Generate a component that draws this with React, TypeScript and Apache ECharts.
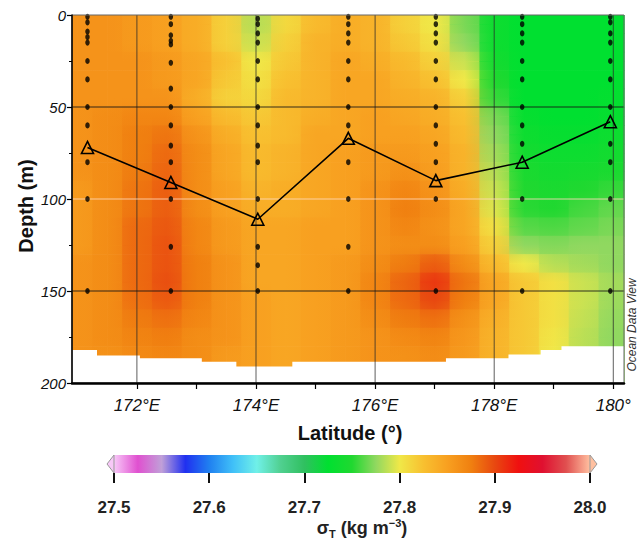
import React, { useEffect, useRef } from "react";
import * as echarts from "echarts";

// ---------- data ----------
const lonColumns = [171.0, 171.5, 172.0, 172.5, 173.0, 173.5, 174.0, 174.5, 175.0, 175.5, 176.0, 176.5, 177.0, 177.5, 178.0, 178.5, 179.0, 179.5, 180.0];
const depthRows = [5, 15, 25, 35, 45, 55, 65, 75, 85, 95, 105, 115, 125, 135, 145, 155, 165, 175, 185];

const sigma5 = [27.86, 27.86, 27.855, 27.85, 27.84, 27.815, 27.785, 27.81, 27.83, 27.84, 27.835, 27.815, 27.8, 27.77, 27.735, 27.725, 27.725, 27.725, 27.725];
const sigma15 = [27.86, 27.86, 27.855, 27.85, 27.84, 27.815, 27.79, 27.815, 27.835, 27.84, 27.835, 27.82, 27.805, 27.775, 27.735, 27.725, 27.725, 27.725, 27.725];
const sigma25 = [27.86, 27.86, 27.86, 27.855, 27.845, 27.825, 27.8, 27.82, 27.835, 27.845, 27.84, 27.83, 27.815, 27.79, 27.74, 27.725, 27.725, 27.725, 27.725];
const sigma35 = [27.86, 27.86, 27.86, 27.855, 27.845, 27.82, 27.805, 27.825, 27.835, 27.845, 27.845, 27.835, 27.825, 27.8, 27.75, 27.725, 27.725, 27.725, 27.725];
const sigma45 = [27.86, 27.86, 27.86, 27.86, 27.84, 27.815, 27.81, 27.83, 27.835, 27.845, 27.845, 27.84, 27.835, 27.815, 27.755, 27.725, 27.725, 27.725, 27.728];
const sigma55 = [27.86, 27.865, 27.87, 27.87, 27.85, 27.83, 27.82, 27.83, 27.84, 27.845, 27.85, 27.845, 27.84, 27.825, 27.77, 27.73, 27.725, 27.725, 27.73];
const sigma65 = [27.86, 27.865, 27.875, 27.88, 27.86, 27.84, 27.825, 27.83, 27.845, 27.845, 27.85, 27.85, 27.845, 27.83, 27.775, 27.735, 27.73, 27.73, 27.735];
const sigma75 = [27.86, 27.865, 27.875, 27.885, 27.865, 27.845, 27.83, 27.835, 27.845, 27.85, 27.855, 27.855, 27.85, 27.835, 27.78, 27.74, 27.735, 27.735, 27.74];
const sigma85 = [27.86, 27.865, 27.877, 27.887, 27.865, 27.845, 27.83, 27.835, 27.845, 27.85, 27.855, 27.862, 27.852, 27.835, 27.785, 27.745, 27.74, 27.742, 27.745];
const sigma95 = [27.855, 27.865, 27.88, 27.89, 27.865, 27.85, 27.835, 27.84, 27.845, 27.85, 27.86, 27.87, 27.86, 27.84, 27.79, 27.75, 27.745, 27.75, 27.755];
const sigma105 = [27.855, 27.865, 27.88, 27.89, 27.865, 27.85, 27.84, 27.84, 27.845, 27.85, 27.86, 27.875, 27.865, 27.845, 27.795, 27.752, 27.75, 27.758, 27.765];
const sigma115 = [27.855, 27.865, 27.885, 27.893, 27.87, 27.855, 27.845, 27.845, 27.85, 27.85, 27.86, 27.87, 27.862, 27.845, 27.805, 27.762, 27.76, 27.765, 27.77];
const sigma125 = [27.855, 27.865, 27.885, 27.895, 27.87, 27.855, 27.845, 27.845, 27.85, 27.85, 27.86, 27.865, 27.865, 27.85, 27.815, 27.775, 27.772, 27.775, 27.775];
const sigma135 = [27.86, 27.865, 27.885, 27.895, 27.875, 27.86, 27.845, 27.845, 27.85, 27.855, 27.865, 27.877, 27.89, 27.865, 27.83, 27.8, 27.785, 27.78, 27.775];
const sigma145 = [27.86, 27.865, 27.885, 27.897, 27.875, 27.86, 27.845, 27.845, 27.85, 27.855, 27.87, 27.887, 27.907, 27.88, 27.845, 27.82, 27.805, 27.79, 27.78];
const sigma155 = [27.86, 27.865, 27.882, 27.892, 27.875, 27.86, 27.85, 27.845, 27.85, 27.855, 27.87, 27.885, 27.9, 27.875, 27.845, 27.82, 27.805, 27.79, 27.778];
const sigma165 = [27.86, 27.865, 27.877, 27.882, 27.87, 27.86, 27.85, 27.845, 27.85, 27.855, 27.865, 27.877, 27.882, 27.862, 27.838, 27.82, 27.805, 27.788, 27.776];
const sigma175 = [27.86, 27.865, 27.872, 27.876, 27.865, 27.86, 27.85, 27.845, 27.85, 27.855, 27.86, 27.867, 27.872, 27.857, 27.835, 27.82, 27.802, 27.786, 27.775];
const sigma185 = [27.86, 27.862, 27.867, 27.87, 27.865, 27.855, 27.85, 27.845, 27.85, 27.855, 27.86, 27.862, 27.866, 27.855, 27.835, 27.82, 27.8, 27.785, 27.775];
const sigmaRows = [sigma5, sigma15, sigma25, sigma35, sigma45, sigma55, sigma65, sigma75, sigma85, sigma95, sigma105, sigma115, sigma125, sigma135, sigma145, sigma155, sigma165, sigma175, sigma185];

const stationLon = [171.17, 172.57, 174.03, 175.55, 177.02, 178.47, 179.95];
const stationDepths = [
  [1, 4, 9, 12, 15, 25, 35, 50, 60, 80, 100, 150],
  [1, 5, 11, 14, 16, 26, 40, 50, 60, 71, 80, 100, 126, 150],
  [2, 5, 10, 15, 25, 35, 50, 60, 71, 80, 100, 126, 136, 150],
  [1, 5, 10, 15, 25, 35, 50, 60, 80, 100, 126, 150],
  [1, 5, 10, 15, 25, 35, 50, 60, 70, 80, 100, 150],
  [1, 5, 10, 15, 25, 35, 50, 60, 70, 100, 150],
  [1, 4, 10, 15, 25, 35, 50, 70, 80, 100, 150],
];
const mldDepth = [72, 91, 111, 67, 90, 80, 58];

const bottomLon = [170.91, 171.33, 172.05, 173.09, 173.67, 174.61, 177.19, 178.24, 178.78, 179.13, 180.2];
const bottomDepth = [182, 185, 186.5, 188.5, 191, 188.5, 186.5, 184.5, 182, 180, 180];

const gridLon = [172, 174, 176, 178, 180];
const gridDepth = [50, 100, 150];
const lonTicks = [172, 173, 174, 175, 176, 177, 178, 179, 180];
const lonLabels = [172, 174, 176, 178, 180];

const sigmaMin = 27.5;
const sigmaMax = 28.0;
const palette = [
  "#f8c8f8", "#e050d0", "#c0a0d8", "#2030f0", "#2080f0", "#40c0f8", "#70f0e8",
  "#50d090", "#30c060", "#00e030", "#20d830", "#90d860", "#f0e848", "#f8c030",
  "#f8a020", "#f08010", "#e84810", "#f01010", "#e01030", "#e05050", "#ffc0a0",
];

// ---------- helpers ----------
const X_MIN = 170.91;
const X_MAX = 180.18;
const D_MAX = 200;
const NARROW = '"Liberation Sans Narrow", "Arial Narrow", "Liberation Sans", Arial, sans-serif';
const SANS = '"Liberation Sans", Arial, Helvetica, sans-serif';

function hexToRgb(h: string) {
  const n = parseInt(h.slice(1), 16);
  return [(n >> 16) & 255, (n >> 8) & 255, n & 255];
}
const paletteRgb = palette.map(hexToRgb);
function colorAt(v: number) {
  let t = (v - sigmaMin) / (sigmaMax - sigmaMin);
  t = Math.max(0, Math.min(1, t));
  const pos = t * (paletteRgb.length - 1);
  const k = Math.min(paletteRgb.length - 2, Math.floor(pos));
  const f = pos - k;
  const a = paletteRgb[k];
  const b = paletteRgb[k + 1];
  const c = a.map((x, q) => Math.round(x + (b[q] - x) * f));
  return `rgb(${c[0]},${c[1]},${c[2]})`;
}

export default function App() {
  const ref = useRef<HTMLDivElement>(null);
  useEffect(() => {
    if (!ref.current) return;
    const chart = echarts.init(ref.current, null, { renderer: "svg" });
    const n = lonColumns.length;
    const m = depthRows.length;

    // pass A: row bands with horizontal shading between columns
    const cellsA: number[][] = [];
    for (let j = 0; j < m; j++) {
      for (let i = -1; i < n; i++) {
        cellsA.push([i < 0 ? X_MIN : lonColumns[i], depthRows[j], i, j]);
      }
    }
    // pass B: column bands with vertical shading between rows
    const cellsB: number[][] = [];
    for (let i = 0; i < n; i++) {
      for (let j = -1; j < m; j++) {
        cellsB.push([lonColumns[i], j < 0 ? 0 : depthRows[j], i, j]);
      }
    }
    const rowTop = (j: number) => (j === 0 ? 0 : (depthRows[j] + depthRows[j - 1]) / 2);
    const rowBot = (j: number) => (j === m - 1 ? D_MAX : (depthRows[j] + depthRows[j + 1]) / 2);
    const colLeft = (i: number) => (i === 0 ? X_MIN : (lonColumns[i] + lonColumns[i - 1]) / 2);
    const colRight = (i: number) => (i === n - 1 ? X_MAX : (lonColumns[i] + lonColumns[i + 1]) / 2);

    const dots: number[][] = [];
    stationDepths.forEach((ds, k) => ds.forEach((d) => dots.push([stationLon[k], d])));

    const option: any = {
      animation: false,
      backgroundColor: "#ffffff",
      grid: [
        { left: 72, top: 15, width: 552, height: 368, show: true, backgroundColor: "transparent", borderColor: "#666", borderWidth: 1, z: 20 },
        { left: 114, top: 455, width: 476, height: 18 },
      ],
      xAxis: [
        {
          type: "value", gridIndex: 0, min: X_MIN, max: X_MAX, z: 25,
          axisLine: { show: true, onZero: false, lineStyle: { color: "#000", width: 2.5 } },
          axisTick: { show: true, customValues: lonTicks, length: 6, lineStyle: { color: "#000", width: 1.2 } },
          axisLabel: {
            customValues: lonLabels, margin: 14, fontFamily: NARROW, fontStyle: "italic", fontSize: 17, color: "#111",
            formatter: (v: number) => (v >= 180 ? `${v}°` : `${v}°E`),
          },
          splitLine: { show: false },
        },
        {
          type: "value", gridIndex: 1, min: sigmaMin, max: sigmaMax, interval: 0.1,
          axisLine: { show: false },
          axisTick: { show: true, length: 10, lineStyle: { color: "#111", width: 2 } },
          axisLabel: { margin: 26, fontFamily: SANS, fontWeight: "bold", fontSize: 17, color: "#222", formatter: (v: number) => v.toFixed(1) },
          splitLine: { show: false },
        },
      ],
      yAxis: [
        {
          type: "value", gridIndex: 0, min: 0, max: D_MAX, interval: 50, inverse: true, z: 25,
          axisLine: { show: true, onZero: false, lineStyle: { color: "#000", width: 1.5 } },
          axisTick: { show: true, length: 5, lineStyle: { color: "#000", width: 1.2 } },
          minorTick: { show: true, splitNumber: 2, length: 3, lineStyle: { color: "#000", width: 1 } },
          axisLabel: { margin: 6, fontFamily: NARROW, fontStyle: "italic", fontSize: 15, color: "#111" },
          splitLine: { show: false },
        },
        { type: "value", gridIndex: 1, min: 0, max: 1, show: false },
      ],
      graphic: [
        {
          type: "text", x: 26, y: 206, rotation: Math.PI / 2,
          style: { text: "Depth (m)", font: `bold 20px ${SANS}`, fill: "#111", align: "center", verticalAlign: "middle" },
        },
        {
          type: "text", x: 350, y: 433,
          style: { text: "Latitude (°)", font: `bold 20px ${SANS}`, fill: "#111", align: "center", verticalAlign: "middle" },
        },
        {
          type: "text", x: 632, y: 325, rotation: Math.PI / 2,
          style: { text: "Ocean Data View", font: `italic 12px ${SANS}`, fill: "#333", align: "center", verticalAlign: "middle" },
        },
        {
          type: "text", x: 362, y: 528,
          style: {
            text: "{n|σ}{sub|T}{n| (kg m}{sup|−3}{n|)}",
            align: "center", verticalAlign: "middle",
            rich: {
              n: { fontFamily: SANS, fontWeight: "bold", fontSize: 18, lineHeight: 22, fill: "#222" },
              sub: { fontFamily: SANS, fontWeight: "bold", fontSize: 11, lineHeight: 12, verticalAlign: "bottom", fill: "#222" },
              sup: { fontFamily: SANS, fontWeight: "bold", fontSize: 11, lineHeight: 12, verticalAlign: "top", fill: "#222" },
            },
          },
        },
      ],
      series: [
        {
          type: "custom", name: "fieldA", xAxisIndex: 0, yAxisIndex: 0, z: 1, silent: true,
          data: cellsA,
          renderItem: (params: any, api: any) => {
            const i = api.value(2);
            const j = api.value(3);
            const l = i < 0 ? X_MIN : lonColumns[i];
            const r = i >= n - 1 ? X_MAX : lonColumns[i + 1];
            const cL = colorAt(sigmaRows[j][Math.max(i, 0)]);
            const cR = colorAt(sigmaRows[j][Math.min(i + 1, n - 1)]);
            const p0 = api.coord([l, rowTop(j)]);
            const p1 = api.coord([r, rowBot(j)]);
            return {
              type: "rect",
              shape: { x: p0[0], y: Math.min(p0[1], p1[1]), width: Math.abs(p1[0] - p0[0]) + 0.6, height: Math.abs(p1[1] - p0[1]) + 0.6 },
              style: { fill: new echarts.graphic.LinearGradient(0, 0, 1, 0, [{ offset: 0, color: cL }, { offset: 1, color: cR }]) },
            };
          },
        },
        {
          type: "custom", name: "fieldB", xAxisIndex: 0, yAxisIndex: 0, z: 1, silent: true,
          data: cellsB,
          renderItem: (params: any, api: any) => {
            const i = api.value(2);
            const j = api.value(3);
            const t = j < 0 ? 0 : depthRows[j];
            const b = j >= m - 1 ? D_MAX : depthRows[j + 1];
            const cT = colorAt(sigmaRows[Math.max(j, 0)][i]);
            const cB = colorAt(sigmaRows[Math.min(j + 1, m - 1)][i]);
            const p0 = api.coord([colLeft(i), t]);
            const p1 = api.coord([colRight(i), b]);
            return {
              type: "rect",
              shape: { x: p0[0], y: Math.min(p0[1], p1[1]), width: Math.abs(p1[0] - p0[0]) + 0.6, height: Math.abs(p1[1] - p0[1]) + 0.6 },
              style: { opacity: 0.5, fill: new echarts.graphic.LinearGradient(0, 0, 0, 1, [{ offset: 0, color: cT }, { offset: 1, color: cB }]) },
            };
          },
        },
        {
          type: "line", name: "bottom", xAxisIndex: 0, yAxisIndex: 0, z: 2, silent: true,
          data: bottomLon.map((x, k) => [x, bottomDepth[k]]),
          step: "end", symbol: "none",
          lineStyle: { width: 0, color: "#fff" },
          areaStyle: { color: "#ffffff", opacity: 1, origin: "end" },
        },
        {
          type: "custom", name: "vlines", xAxisIndex: 0, yAxisIndex: 0, z: 3, silent: true,
          data: gridLon.map((x) => [x, 0]),
          renderItem: (params: any, api: any) => {
            const a = api.coord([api.value(0), 0]);
            const b = api.coord([api.value(0), D_MAX]);
            return { type: "line", shape: { x1: a[0], y1: a[1], x2: b[0], y2: b[1] }, style: { stroke: "rgba(40,40,40,0.75)", lineWidth: 1 } };
          },
        },
        {
          type: "custom", name: "hlines", xAxisIndex: 0, yAxisIndex: 0, z: 3, silent: true,
          data: gridDepth.map((d) => [X_MIN, d]),
          renderItem: (params: any, api: any) => {
            const d = api.value(1);
            const a = api.coord([X_MIN, d]);
            const b = api.coord([X_MAX, d]);
            const faint = d === 100;
            return {
              type: "line", shape: { x1: a[0], y1: a[1], x2: b[0], y2: b[1] },
              style: { stroke: faint ? "rgba(255,220,190,0.55)" : "rgba(20,20,20,0.85)", lineWidth: faint ? 1.5 : 1.2 },
            };
          },
        },
        {
          type: "line", name: "MLD", xAxisIndex: 0, yAxisIndex: 0, z: 10,
          data: stationLon.map((x, k) => [x, mldDepth[k]]),
          symbol: "triangle", symbolSize: [12, 12], showSymbol: true,
          itemStyle: { color: "rgba(0,0,0,0)", borderColor: "#000", borderWidth: 1.6 },
          lineStyle: { color: "#000", width: 1.6 },
        },
        {
          type: "scatter", name: "samples", xAxisIndex: 0, yAxisIndex: 0, z: 11,
          data: dots, symbol: "circle", symbolSize: [4.5, 6],
          itemStyle: { color: "#000" },
        },
        {
          type: "custom", name: "colorbar", xAxisIndex: 1, yAxisIndex: 1, z: 5, silent: true,
          data: [[sigmaMin, 0]],
          renderItem: (params: any, api: any) => {
            const p0 = api.coord([sigmaMin, 1]);
            const p1 = api.coord([sigmaMax, 0]);
            const y0 = p0[1];
            const y1 = p1[1];
            const mid = (y0 + y1) / 2;
            return {
              type: "group",
              children: [
                {
                  type: "rect",
                  shape: { x: p0[0], y: y0, width: p1[0] - p0[0], height: y1 - y0 },
                  style: { fill: new echarts.graphic.LinearGradient(0, 0, 1, 0, palette.map((c, k) => ({ offset: k / (palette.length - 1), color: c }))) },
                },
                {
                  type: "polygon",
                  shape: { points: [[p0[0], y0], [p0[0] - 7, mid], [p0[0], y1]] },
                  style: { fill: palette[0], stroke: "#999", lineWidth: 1 },
                },
                {
                  type: "polygon",
                  shape: { points: [[p1[0], y0], [p1[0] + 7, mid], [p1[0], y1]] },
                  style: { fill: palette[palette.length - 1], stroke: "#999", lineWidth: 1 },
                },
              ],
            };
          },
        },
      ],
    };
    chart.setOption(option);
    return () => chart.dispose();
  }, []);
  return <div ref={ref} style={{ position: "fixed", left: 0, top: 0, width: 638, height: 543 }} />;
}
